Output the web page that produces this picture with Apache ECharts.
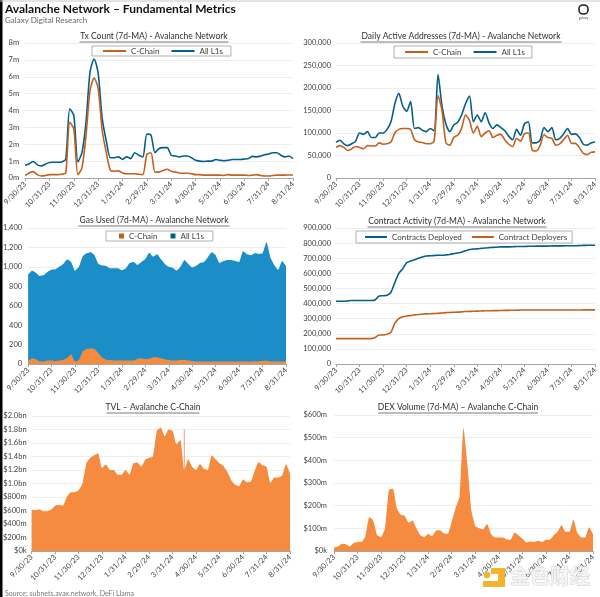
<!DOCTYPE html>
<html>
<head>
<meta charset="utf-8">
<style>
  html, body { margin: 0; padding: 0; background: #fff; }
  #chart { width: 600px; height: 597px; }
</style>
<script src="https://cdn.jsdelivr.net/npm/echarts@6/dist/echarts.min.js"></script>
</head>
<body>
<div id="chart"></div>
<script>
// shared x axis, about 5 days per step, month ends every 6th entry
const dates = [
  "9/30/23","10/5/23","10/10/23","10/15/23","10/20/23","10/25/23","10/31/23",
  "11/5/23","11/10/23","11/15/23","11/20/23","11/25/23","11/30/23",
  "12/5/23","12/10/23","12/15/23","12/20/23","12/25/23","12/31/23",
  "1/5/24","1/10/24","1/15/24","1/20/24","1/25/24","1/31/24",
  "2/5/24","2/10/24","2/15/24","2/20/24","2/25/24","2/29/24",
  "3/5/24","3/10/24","3/15/24","3/20/24","3/25/24","3/31/24",
  "4/5/24","4/10/24","4/15/24","4/20/24","4/25/24","4/30/24",
  "5/5/24","5/10/24","5/15/24","5/20/24","5/25/24","5/31/24",
  "6/5/24","6/10/24","6/15/24","6/20/24","6/25/24","6/30/24",
  "7/5/24","7/10/24","7/15/24","7/20/24","7/25/24","7/31/24",
  "8/5/24","8/10/24","8/15/24","8/20/24","8/25/24","8/31/24"
];

// Tx Count, millions
const txCChain = [.15,.3,.38,.2,.12,.15,.2,.2,.2,.22,.3,3.3,2.9,.2,.6,2.5,5.2,5.92,5.3,2.8,1.5,.45,.4,.42,.3,.25,.25,.25,.22,.2,1.4,1.5,.35,.35,.45,.52,.4,.35,.3,.28,.28,.25,.2,.2,.17,.17,.17,.17,.17,.15,.2,.17,.17,.17,.17,.15,.17,.2,.15,.12,.12,.15,.17,.17,.17,.18,.18];
const txAllL1s = [.75,.85,.98,.78,.72,.82,.92,.93,.93,.95,1.1,4.1,3.7,.95,1.5,3.3,6.3,7.05,6.2,3.5,2.2,1.2,1.2,1.25,1.1,1.25,1.15,1.5,1.35,1.25,2.6,2.55,1.5,1.75,1.8,1.8,1.35,1.3,1.25,1.3,1.3,1.2,1.05,1,.98,1,1,1.1,1.05,1.02,1.05,1.1,1.1,1.1,1.12,1.15,1.28,1.25,1.3,1.38,1.42,1.5,1.5,1.35,1.25,1.3,1.15];
const txTicks = ["0m","1m","2m","3m","4m","5m","6m","7m","8m"];

// Daily Active Addresses, thousands
const daaCChain = [68,72,68,61,65,70,68,65,72,71,71,78,75,76,80,100,108,110,110,108,85,80,79,76,76,82,183,150,78,73,90,95,110,140,128,100,115,92,100,105,90,95,97,85,75,70,88,82,98,100,62,60,72,96,90,88,73,76,85,95,77,77,68,55,52,57,58];
const daaAllL1s = [79,84,76,72,76,82,100,97,103,90,90,100,100,108,125,165,188,160,148,170,110,112,106,103,110,105,230,160,120,103,118,124,140,165,182,125,140,125,145,122,110,118,112,105,93,85,108,95,120,125,78,78,84,112,103,112,85,88,98,110,97,98,90,75,73,78,80];
const daaTicks = ["0","50,000","100,000","150,000","200,000","250,000","300,000"];

// Gas Used
const gasCChain = [30,60,50,25,25,35,35,30,35,45,60,100,25,40,130,155,160,155,110,65,45,40,35,35,35,35,35,35,55,60,50,55,70,70,60,50,40,35,35,40,40,35,30,25,25,25,25,25,25,25,25,25,25,25,25,28,25,25,28,28,30,35,25,25,25,25,28];
const gasAllL1s = [920,960,940,905,915,950,970,975,1000,1030,1075,1050,960,1000,1110,1140,1150,1120,1030,1015,1010,985,985,985,965,985,1040,1050,1020,1050,1080,1145,1105,1130,1080,1030,1000,990,960,1000,1070,1030,995,1010,1040,1050,1100,1150,1120,1040,1060,1070,1070,1060,1050,1160,1130,1120,1140,1135,1140,1255,1100,1020,970,1060,1010];
const gasTicks = ["0","200","400","600","800","1,000","1,200","1,400"];

// Contract Activity, thousands
const contractsDeployed = [415,415,415,418,420,420,420,420,420,420,425,450,452,455,475,540,600,630,670,682,690,700,708,715,716,718,720,720,722,725,730,735,740,750,758,760,762,765,768,770,772,773,775,775,775,776,778,778,778,779,779,780,780,780,780,782,782,782,782,783,783,783,784,785,786,786,786];
const contractDeployers = [168,168,168,168,168,168,168,168,168,168,175,192,192,197,210,270,300,312,318,320,325,328,330,332,333,334,335,338,340,341,342,343,345,347,348,349,350,351,352,352,353,353,354,355,355,356,356,357,357,357,357,357,357,357,357,357,357,357,357,357,357,357,357,358,358,358,358];
const contractTicks = ["0","100,000","200,000","300,000","400,000","500,000","600,000","700,000","800,000","900,000"];

// TVL, $ millions
const tvlValues = [610,605,620,590,590,610,670,680,670,800,870,870,900,1000,1300,1380,1420,1450,1230,1280,1200,1200,1130,1130,1200,1130,1300,1310,1250,1350,1380,1400,1780,1830,1700,1800,1780,1580,1650,1200,1360,1250,1200,1290,1220,1200,1420,1360,1300,1260,1170,1050,980,960,1060,1020,1030,1190,1320,1270,1250,1010,1090,1090,1120,1290,1150];
const tvlSpike = [[39,1800]];
const tvlTicks = ["$0k","$200m","$400m","$600m","$800m","$1.0bn","$1.2bn","$1.4bn","$1.6bn","$1.8bn","$2.0bn"];

// DEX Volume, $ millions
const dexValues = [15,20,32,30,20,35,40,40,65,150,135,70,62,100,270,275,190,160,155,125,135,100,70,62,75,65,90,92,78,75,130,190,240,545,380,180,110,100,95,120,75,60,60,60,52,50,82,70,55,38,42,40,45,40,50,50,70,85,115,85,85,140,80,60,60,105,75];
const dexTicks = ["$0k","$100m","$200m","$300m","$400m","$500m","$600m"];

const ORANGE_LINE = "#c5601c";
const BLUE_LINE = "#055f8a";
const ORANGE_AREA = "#f58b3f";
const BLUE_AREA = "#1b8ec8";
const FONT = "Lato";

const panels = [
  { title: "Tx Count (7d-MA) - Avalanche Network", tx: 154, ty: 37, uw: 149, left: 25, right: 293, top: 43, bottom: 178, ticks: txTicks, step: 1, gap: 6 },
  { title: "Daily Active Addresses (7d-MA) - Avalanche Network", tx: 461, ty: 37, uw: 201, left: 336, right: 596, top: 43, bottom: 178, ticks: daaTicks, step: 50, gap: 5 },
  { title: "Gas Used (7d-MA) - Avalanche Network", tx: 154, ty: 221, uw: 151, left: 26, right: 286, top: 228, bottom: 364, ticks: gasTicks, step: 200, gap: 6 },
  { title: "Contract Activity (7d-MA) - Avalanche Network", tx: 457, ty: 222, uw: 179, left: 336, right: 596, top: 228, bottom: 364, ticks: contractTicks, step: 100, gap: 5 },
  { title: "TVL – Avalanche C-Chain", tx: 153, ty: 408, uw: 93, left: 29, right: 290, top: 416, bottom: 551, ticks: tvlTicks, step: 200, gap: 5 },
  { title: "DEX Volume (7d-MA) – Avalanche C-Chain", tx: 458, ty: 408, uw: 160, left: 334, right: 593, top: 415, bottom: 551, ticks: dexTicks, step: 100, gap: 7 }
];

const grids = [], xAxes = [], yAxes = [], titles = [];
const underlines = [];

panels.forEach((p, i) => {
  grids.push({ left: p.left, top: p.top, width: p.right - p.left, height: p.bottom - p.top });
  xAxes.push({
    type: "category",
    gridIndex: i,
    data: dates,
    boundaryGap: false,
    axisLine: { lineStyle: { color: "#a6a6a6", width: 1 } },
    axisTick: { show: true, length: 3, interval: (idx) => idx % 6 === 0, lineStyle: { color: "#a6a6a6" } },
    axisLabel: {
      interval: (idx) => idx % 6 === 0,
      rotate: 45,
      fontFamily: FONT,
      fontSize: 7.5,
      color: "#404040",
      margin: 5,
      showMinLabel: true,
      showMaxLabel: true,
      hideOverlap: false
    },
    splitLine: { show: false }
  });
  yAxes.push({
    type: "value",
    gridIndex: i,
    min: 0,
    max: p.step * (p.ticks.length - 1),
    interval: p.step,
    axisLine: { show: false },
    axisTick: { show: false },
    axisLabel: {
      fontFamily: FONT,
      fontSize: 7.5,
      color: "#404040",
      margin: p.gap,
      formatter: (v) => p.ticks[Math.round(v / p.step)]
    },
    splitLine: { lineStyle: { color: "#eeeeee", width: 1 } }
  });
  titles.push({
    text: p.title,
    left: p.tx,
    top: p.ty - 5,
    padding: 0,
    textAlign: "center",
    textStyle: { fontFamily: FONT, fontSize: 8.5, fontWeight: "normal", color: "#303030" }
  });
  underlines.push({
    type: "line",
    shape: { x1: p.tx - p.uw / 2, y1: p.ty + 5, x2: p.tx + p.uw / 2, y2: p.ty + 5 },
    style: { stroke: "#404040", lineWidth: 0.7 }
  });
});

titles.push({
  text: "Avalanche Network – Fundamental Metrics",
  left: 5, top: 3, padding: 0,
  textStyle: { fontFamily: FONT, fontSize: 12, fontWeight: "bold", color: "#111111" }
});
titles.push({
  text: "Galaxy Digital Research",
  left: 5, top: 16, padding: 0,
  textStyle: { fontFamily: FONT, fontSize: 8, fontWeight: "normal", color: "#666666" }
});
titles.push({
  text: "Source: subnets.avax.network, DeFi Llama",
  left: 5, top: 590, padding: 0,
  textStyle: { fontFamily: FONT, fontSize: 7, fontWeight: "normal", color: "#777777" }
});

function lineSeries(name, data, color, i) {
  return {
    name, type: "line", data, xAxisIndex: i, yAxisIndex: i,
    showSymbol: false, smooth: 0.25,
    lineStyle: { color, width: 1.6 },
    itemStyle: { color }
  };
}

function areaSeries(name, data, color, i) {
  return {
    name, type: "line", data, xAxisIndex: i, yAxisIndex: i,
    showSymbol: false, smooth: 0.15,
    lineStyle: { width: 0 },
    itemStyle: { color },
    areaStyle: { color, opacity: 1 }
  };
}

const series = [
  lineSeries("All L1s", txAllL1s, BLUE_LINE, 0),
  lineSeries("C-Chain", txCChain, ORANGE_LINE, 0),
  lineSeries("All L1s", daaAllL1s, BLUE_LINE, 1),
  lineSeries("C-Chain", daaCChain, ORANGE_LINE, 1),
  areaSeries("All L1s", gasAllL1s, BLUE_AREA, 2),
  areaSeries("C-Chain", gasCChain, ORANGE_AREA, 2),
  lineSeries("Contracts Deployed", contractsDeployed, BLUE_LINE, 3),
  lineSeries("Contract Deployers", contractDeployers, ORANGE_LINE, 3),
  areaSeries("TVL", tvlValues, ORANGE_AREA, 4),
  {
    name: "TVL spike", type: "bar", data: tvlSpike, xAxisIndex: 4, yAxisIndex: 4,
    barWidth: 1, itemStyle: { color: "#e8a27a" }
  },
  areaSeries("DEX Volume", dexValues, ORANGE_AREA, 5)
];

function legendBox(names, left, top, padding, gap, itemWidth, itemHeight, icon) {
  return {
    data: names,
    left, top,
    orient: "horizontal",
    padding,
    itemGap: gap,
    itemWidth,
    itemHeight,
    icon,
    selectedMode: false,
    borderColor: "#b0b0b0",
    borderWidth: 1,
    backgroundColor: "#ffffff",
    textStyle: { fontFamily: FONT, fontSize: 8, color: "#404040" }
  };
}

const legends = [
  legendBox(["C-Chain", "All L1s"], 92, 46, [1, 8, 1, 11], 12, 23, 2, "rect"),
  legendBox(["C-Chain", "All L1s"], 394, 46, [2, 7, 2, 11], 12, 23, 2, "rect"),
  legendBox(["C-Chain", "All L1s"], 106, 231, [1, 9, 1, 13], 13, 5, 5, "rect"),
  legendBox(["Contracts Deployed", "Contract Deployers"], 356, 231, [2, 5, 2, 9], 10, 22, 2, "rect")
];

const chrome = [
  { type: "rect", shape: { x: 0, y: 0, width: 2.5, height: 597 }, style: { fill: "#000000" } },
  { type: "rect", shape: { x: 0, y: 0.5, width: 600, height: 1 }, style: { fill: "#c8c8c8" } },
  // galaxy logo
  { type: "rect", shape: { x: 579, y: 5, width: 9, height: 9, r: 4 }, style: { fill: "none", stroke: "#222222", lineWidth: 1.6 } },
  { type: "text", style: { x: 583.5, y: 18, text: "galaxy", fontSize: 3.5, fontFamily: FONT, fill: "#555555", align: "center", verticalAlign: "middle" } },
  // 金色财经 watermark
  { type: "polygon", shape: { points: [[491, 568], [505, 568], [505, 587], [483, 587], [483, 581], [498, 581], [498, 574], [491, 574]] }, style: { fill: "#f3b32c" } },
  { type: "circle", shape: { cx: 487, cy: 575, r: 3.2 }, style: { fill: "#f3b32c" } },
  { type: "text", z: 20, style: { x: 510, y: 576, text: "金色财经", fontFamily: "Noto Sans CJK SC", fontSize: 20, fontWeight: "bold", fill: "#f4f4f4", stroke: "#cccccc", lineWidth: 0.8, verticalAlign: "middle" } }
];

const chart = echarts.init(document.getElementById("chart"), null, { renderer: "canvas" });
chart.setOption({
  animation: false,
  backgroundColor: "#ffffff",
  title: titles,
  grid: grids,
  xAxis: xAxes,
  yAxis: yAxes,
  legend: legends,
  series,
  graphic: underlines.concat(chrome).map((g) => Object.assign({ silent: true, z: 10 }, g))
});
</script>
</body>
</html>
